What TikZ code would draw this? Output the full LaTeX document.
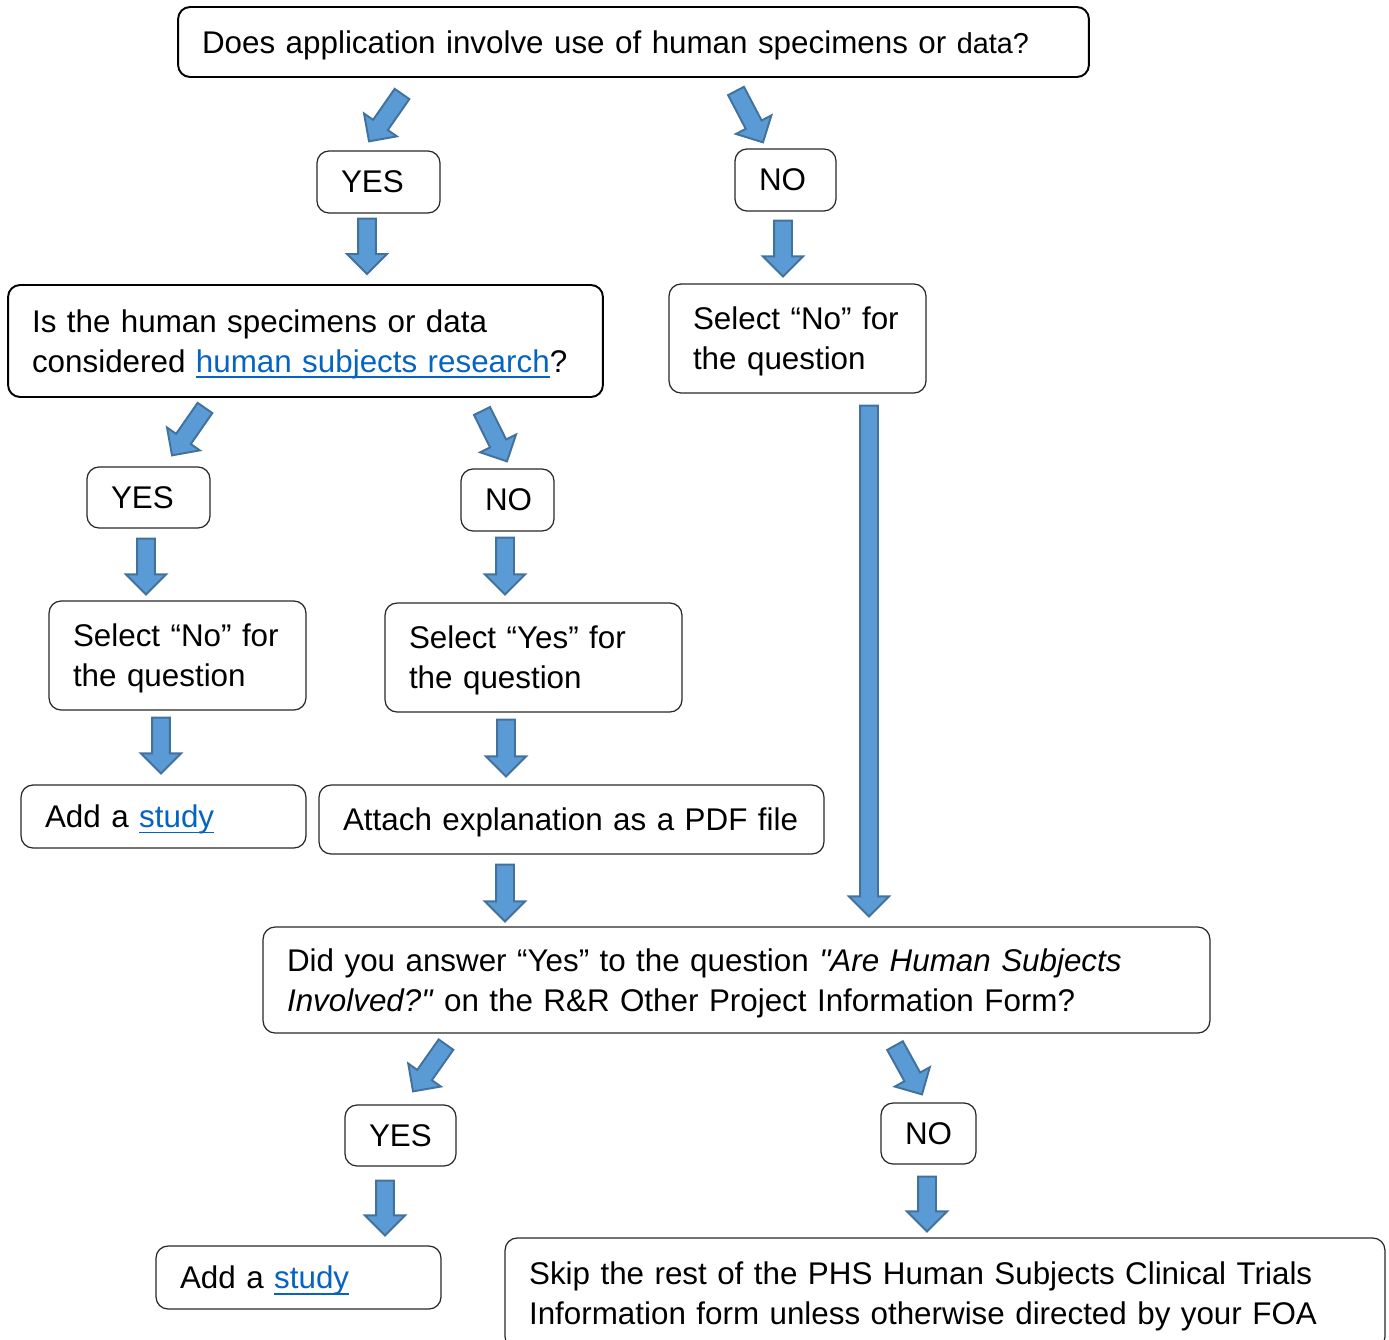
\documentclass[tikz,border=0pt]{standalone}
\usepackage{fontspec}
\setmainfont{Liberation Sans}[Ligatures=TeXOff]
\usepackage{xcolor}
\usetikzlibrary{calc}
\definecolor{arrFill}{RGB}{91,155,213}
\definecolor{arrLine}{RGB}{65,113,156}
\definecolor{linkColor}{RGB}{5,99,193}
\definecolor{boxLine}{RGB}{40,40,40}
\newcommand{\diagfont}{\fontsize{17.85}{22.8}\selectfont}
\newcommand{\diagsmallfont}{\fontsize{16.4}{22.8}\selectfont}
\newcommand{\lnk}[1]{\textcolor{linkColor}{\setbox0\hbox{#1}\rlap{\rule[-3.2pt]{\wd0}{0.9pt}}\box0}}
% block arrow from #1 (tail) to #2 (tip)
\newcommand{\blockarrow}[2]{%
  \draw[blockarr] let \p1=(#1), \p2=(#2),
    \n1={atan2(\y2-\y1,\x2-\x1)}, \n2={veclen(\x2-\x1,\y2-\y1)}, \n3={\n2-11.4pt} in
    [shift={(\p1)}, rotate=\n1]
    (0pt,5.1pt) -- (\n3,5.1pt) -- (\n3,11.4pt) -- (\n2,0pt)
    -- (\n3,-11.4pt) -- (\n3,-5.1pt) -- (0pt,-5.1pt) -- cycle;}

\begin{document}
\begin{tikzpicture}[x=0.02cm, y=-0.02cm,
    decision/.style={draw=black, line width=1.1pt, rounded corners=0.24cm, align=left, inner xsep=0.48cm, inner ysep=0pt, font=\diagfont},
    stepbox/.style={draw=boxLine, line width=0.7pt, rounded corners=0.24cm, align=left, inner xsep=0.48cm, inner ysep=0pt, font=\diagfont},
    oneline/.style={text depth=0pt},
    twoline/.style={text depth=22.8pt},
    blockarr/.style={draw=arrLine, fill=arrFill, line width=1.1pt}
  ]
  \useasboundingbox (0,0) rectangle (1389,1339);
  \clip (0,0) rectangle (1389,1339);

  \node[decision, oneline, text width=17.26cm, minimum height=1.4cm] (q1) at (633.5,42) {Does application involve use of human specimens or {\diagsmallfont data?}};
  \node[stepbox, oneline, text width=1.5cm, minimum height=1.24cm] (yes1) at (378.5,182) {YES};
  \node[stepbox, oneline, text width=1.06cm, minimum height=1.24cm] (no1) at (785.5,180) {NO};
  \node[decision, twoline, text width=10.94cm, minimum height=2.24cm] (q2) at (305.5,341) {\mbox{Is the human specimens or data}\\\mbox{considered \lnk{human subjects research}?}};
  \node[stepbox, twoline, text width=4.18cm, minimum height=2.18cm] (selno1) at (797.5,338.5) {\mbox{Select “No” for}\\the question};
  \node[stepbox, oneline, text width=1.5cm, minimum height=1.22cm] (yes2) at (148.5,497.5) {YES};
  \node[stepbox, oneline, text width=0.9cm, minimum height=1.24cm] (no2) at (507.5,500) {\mbox{NO}};
  \node[stepbox, twoline, text width=4.18cm, minimum height=2.18cm] (selno2) at (177.5,655.5) {\mbox{Select “No” for}\\the question};
  \node[stepbox, twoline, text width=4.98cm, minimum height=2.18cm] (selyes) at (533.5,657.5) {\mbox{Select “Yes” for}\\the question};
  \node[stepbox, oneline, text width=4.74cm, minimum height=1.26cm] (study1) at (163.5,816.5) {Add a \lnk{study}};
  \node[stepbox, oneline, text width=9.14cm, minimum height=1.38cm] (attach) at (571.5,819.5) {\mbox{Attach explanation as a PDF file}};
  \node[stepbox, twoline, text width=17.98cm, minimum height=2.12cm] (q3) at (736.5,980) {Did you answer “Yes” to the question \textit{"Are Human Subjects}\\\textit{Involved?"} on the R\&R Other Project Information Form?};
  \node[stepbox, oneline, text width=1.26cm, minimum height=1.22cm] (yes3) at (400.5,1135.5) {\mbox{YES}};
  \node[stepbox, oneline, text width=0.94cm, minimum height=1.22cm] (no3) at (928.5,1133.5) {\mbox{NO}};
  \node[stepbox, oneline, text width=4.74cm, minimum height=1.26cm] (study2) at (298.5,1277.5) {Add a \lnk{study}};
  \node[stepbox, twoline, text width=16.64cm, minimum height=2.22cm] (skip) at (945,1293.5) {Skip the rest of the PHS Human Subjects Clinical Trials\\Information form unless otherwise directed by your FOA};

  % first question
  \blockarrow{$(q1.south)+(-231.5,16)$}{$(yes1.north)+(-9.5,-9)$}
  \blockarrow{$(q1.south)+(102.5,13)$}{$(no1.north)+(-22.5,-6)$}
  \blockarrow{$(yes1.south)+(-11.5,5)$}{$(q2.north)+(61.5,-10)$}
  \blockarrow{$(no1.south)+(-2.5,9)$}{$(selno1.north)+(-14.5,-7)$}
  % second question
  \blockarrow{$(q2.south)+(-100.5,10)$}{$(yes2.north)+(23.5,-11)$}
  \blockarrow{$(q2.south)+(176.5,13)$}{$(no2.north)+(-0.5,-7)$}
  \blockarrow{$(yes2.south)+(-2.5,10)$}{$(selno2.north)+(-31.5,-6)$}
  \blockarrow{$(no2.south)+(-2.5,6)$}{$(selyes.north)+(-28.5,-8)$}
  \blockarrow{$(selno2.south)+(-16.5,7)$}{$(study1.north)+(-2.5,-11)$}
  \blockarrow{$(selyes.south)+(-27.5,7)$}{$(attach.north)+(-65.5,-8)$}
  \blockarrow{$(selno1.south)+(71.5,12)$}{$(q3.north)+(132.5,-10)$}
  \blockarrow{$(attach.south)+(-66.5,10)$}{$(q3.north)+(-231.5,-5)$}
  % third question
  \blockarrow{$(q3.south)+(-290.5,11)$}{$(yes3.north)+(12.5,-13)$}
  \blockarrow{$(q3.south)+(158.5,12)$}{$(no3.north)+(-6.5,-8)$}
  \blockarrow{$(yes3.south)+(-15.5,14)$}{$(study2.north)+(86.5,-10)$}
  \blockarrow{$(no3.south)+(-1.5,12)$}{$(skip.north)+(-18,-6)$}
\end{tikzpicture}
\end{document}
